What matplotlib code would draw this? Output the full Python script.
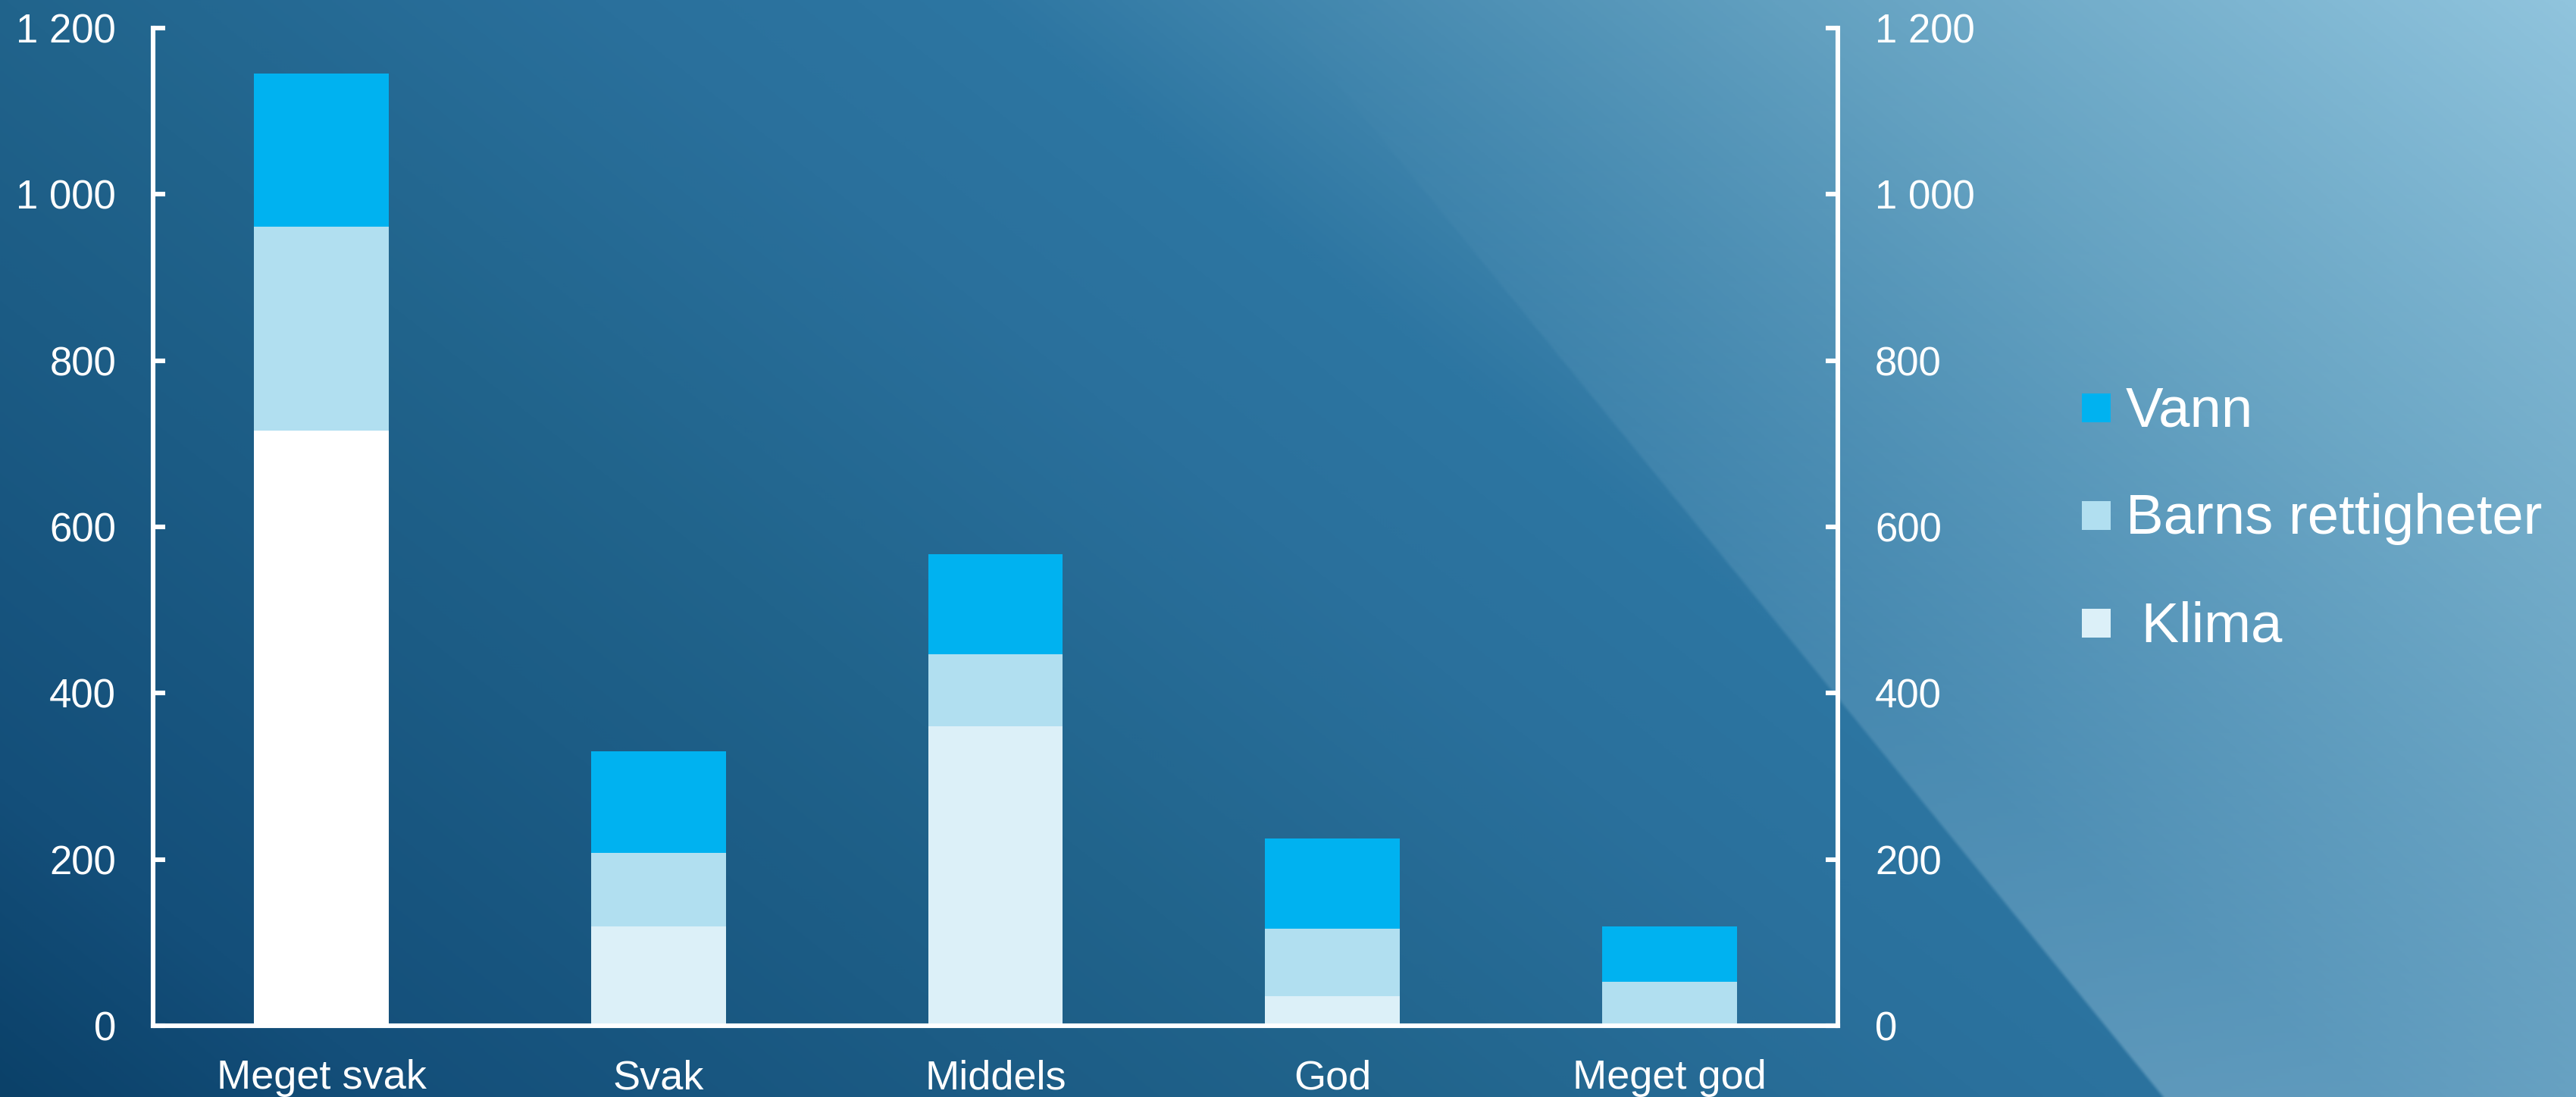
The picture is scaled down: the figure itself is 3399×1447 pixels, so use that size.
import numpy as np
import matplotlib
matplotlib.use("Agg")
import matplotlib.pyplot as plt
from matplotlib.colors import LinearSegmentedColormap, to_rgb
from matplotlib.patches import Rectangle
from matplotlib.ticker import FuncFormatter

plt.rcParams['font.family'] = ['Liberation Sans', 'DejaVu Sans']

# data
categories = ['Meget svak', 'Svak', 'Middels', 'God', 'Meget god']
klima = [716, 119, 360, 36, 0]
barns = [245, 89, 87, 81, 53]
vann = [184, 122, 120, 108, 66]
series_names = ['Vann', 'Barns rettigheter', ' Klima']
yticks = [0, 200, 400, 600, 800, 1000, 1200]

c_vann = '#00b2f0'
c_barns = '#b1dff0'
c_klima = '#dcf0f8'
klima_colors = ['#ffffff', c_klima, c_klima, c_klima, c_klima]

W, H = 3399, 1447
fig = plt.figure(figsize=(W / 200, H / 200), dpi=200)

# background gradient with a lighter diagonal wedge on the right
ny, nx = 724, 1700
yy, xx = np.mgrid[0:1:ny * 1j, 0:1:nx * 1j]
t = 0.65 * xx + 0.35 * (1 - yy)
stops = [(0.0, '#0b4169'), (0.1, '#144f7a'), (0.35, '#21648c'), (0.5, '#2a709c'),
         (0.6, '#2d76a2'), (0.8, '#62a0c0'), (1.0, '#90c4dd')]
cmap = LinearSegmentedColormap.from_list('bg', stops)
img = cmap(t)[..., :3]
edge = np.clip((xx * W - (1675 + 0.815 * yy * H)) / 6 + 0.5, 0, 1)
alpha = (0.36 * yy ** 1.4 * edge)[..., None]
img = img * (1 - alpha) + np.array(to_rgb('#b8dcee')) * alpha

bg = fig.add_axes([0, 0, 1, 1])
bg.imshow(img, aspect='auto', extent=[0, 1, 0, 1], interpolation='bilinear')
bg.axis('off')

ax = fig.add_axes([202 / W, 1 - 1353 / H, (2425 - 202) / W, (1353 - 37) / H])
ax.patch.set_alpha(0)

x = np.arange(len(categories))
w = 0.4
ax.bar(x, klima, w, color=klima_colors)
ax.bar(x, barns, w, bottom=klima, color=c_barns)
bottom2 = np.array(klima) + np.array(barns)
ax.bar(x, vann, w, bottom=bottom2, color=c_vann)

ax.set_xlim(-0.5, len(categories) - 0.5)
ax.set_ylim(0, 1200)
ax.set_yticks(yticks)
ax.yaxis.set_major_formatter(FuncFormatter(lambda v, p: f'{int(v):,}'.replace(',', ' ')))
ax.set_xticks(x)
ax.set_xticklabels(categories)

for s in ['left', 'right', 'bottom']:
    ax.spines[s].set_color('white')
    ax.spines[s].set_linewidth(2.2)
ax.spines['top'].set_visible(False)

ax.yaxis.set_ticks_position('both')
ax.tick_params(axis='y', direction='in', length=5.8, width=2.2, color='white',
               pad=17.6, labelsize=19, labelcolor='white', labelleft=True, labelright=True)
ax.tick_params(axis='x', length=0, pad=16, labelsize=19.5, labelcolor='white')

# legend drawn by hand
legend_colors = [c_vann, c_barns, c_klima]
for i, (name, col) in enumerate(zip(series_names, legend_colors)):
    cy = 538 + 142 * i
    fig.add_artist(Rectangle((2747 / W, 1 - (cy + 19) / H), 38 / W, 38 / H,
                             transform=fig.transFigure, color=col, lw=0))
    fig.text(2805 / W, 1 - (cy + 24) / H, name, color='white', fontsize=26.8,
             va='baseline', ha='left')

fig.savefig('out.png', dpi=200)
